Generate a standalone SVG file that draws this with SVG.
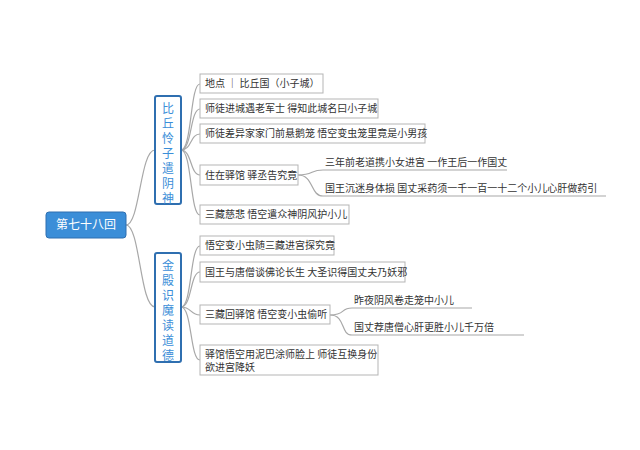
<svg xmlns="http://www.w3.org/2000/svg" width="640" height="450" viewBox="0 0 640 450">
<style>
text{font-family:"Noto Sans CJK SC","Noto Sans",sans-serif;font-size:10px;fill:#333}
.leaf{fill:#fff;stroke:#b5b5b5;stroke-width:1}
.br{fill:#fff;stroke:#2f6fb0;stroke-width:2}
.bt{fill:#3b8ed8;font-size:12px;text-anchor:middle}
.c{fill:none;stroke:#a8a8a8;stroke-width:1.2}
</style>
<rect width="640" height="450" fill="#fff"/>
<g id="connectors">
<path class="c" d="M126,225 C140,225 140,150 155,150"/>
<path class="c" d="M126,225 C140,225 140,307 155,307"/>
<path class="c" d="M181,150 C192,150 190,84 200,84"/>
<path class="c" d="M181,150 C192,150 190,109 200,109"/>
<path class="c" d="M181,150 C192,150 190,134 200,134"/>
<path class="c" d="M181,150 C192,150 190,175 200,175"/>
<path class="c" d="M181,150 C192,150 190,215 200,215"/>
<path class="c" d="M298,175 C314,175 310,170 323,170 H507"/>
<path class="c" d="M298,175 C314,175 310,196 323,196 H606"/>
<path class="c" d="M181,307 C192,307 190,246 200,246"/>
<path class="c" d="M181,307 C192,307 190,272 200,272"/>
<path class="c" d="M181,307 C192,307 190,315 200,315"/>
<path class="c" d="M181,307 C192,307 190,360 200,360"/>
<path class="c" d="M330,315 C346,315 340,308 352,308 H472"/>
<path class="c" d="M330,315 C346,315 340,335 352,335 H524"/>
</g>
<g id="root"><rect x="46" y="212" width="80" height="26" rx="3" fill="#3b8ed8" stroke="#2f6fb0"/><text x="86" y="229" text-anchor="middle" style="fill:#fff;font-size:12px">第七十八回</text></g>
<g id="b1"><rect class="br" x="155" y="96" width="26" height="108" rx="2"/>
<text class="bt" x="168" y="113">比</text><text class="bt" x="168" y="128">丘</text><text class="bt" x="168" y="143">怜</text><text class="bt" x="168" y="158">子</text><text class="bt" x="168" y="173">遣</text><text class="bt" x="168" y="188">阴</text><text class="bt" x="168" y="203">神</text></g>
<g id="b2"><rect class="br" x="155" y="253" width="26" height="109" rx="2"/>
<text class="bt" x="168" y="270">金</text><text class="bt" x="168" y="285">殿</text><text class="bt" x="168" y="300">识</text><text class="bt" x="168" y="315">魔</text><text class="bt" x="168" y="330">读</text><text class="bt" x="168" y="345">道</text><text class="bt" x="168" y="360">德</text></g>
<g id="l1"><rect class="leaf" x="200" y="74" width="123" height="19"/><text x="205" y="87">地点 ｜ 比丘国（小子城）</text></g>
<g id="l2"><rect class="leaf" x="200" y="99" width="178" height="19"/><text x="205" y="112">师徒进城遇老军士 得知此城名曰小子城</text></g>
<g id="l3"><rect class="leaf" x="200" y="124" width="225" height="19"/><text x="205" y="137">师徒差异家家门前悬鹅笼 悟空变虫笼里竟是小男孩</text></g>
<g id="l4"><rect class="leaf" x="200" y="165" width="98" height="20"/><text x="205" y="179">住在驿馆 驿丞告究竟</text></g>
<g id="l4a"><text x="325" y="166">三年前老道携小女进宫 一作王后一作国丈</text></g>
<g id="l4b"><text x="325" y="192">国王沉迷身体损 国丈采药须一千一百一十二个小儿心肝做药引</text></g>
<g id="l5"><rect class="leaf" x="200" y="205" width="149" height="19"/><text x="205" y="218">三藏慈悲 悟空遣众神阴风护小儿</text></g>
<g id="m1"><rect class="leaf" x="200" y="236" width="134" height="19"/><text x="205" y="249">悟空变小虫随三藏进宫探究竟</text></g>
<g id="m2"><rect class="leaf" x="200" y="262" width="205" height="20"/><text x="205" y="276">国王与唐僧谈佛论长生 大圣识得国丈夫乃妖邪</text></g>
<g id="m3"><rect class="leaf" x="200" y="305" width="130" height="19"/><text x="205" y="318">三藏回驿馆 悟空变小虫偷听</text></g>
<g id="m3a"><text x="354" y="304">昨夜阴风卷走笼中小儿</text></g>
<g id="m3b"><text x="354" y="331">国丈荐唐僧心肝更胜小儿千万倍</text></g>
<g id="m4"><rect class="leaf" x="200" y="345" width="178" height="30"/><text x="205" y="358">驿馆悟空用泥巴涂师脸上 师徒互换身份</text><text x="205" y="371">欲进宫降妖</text></g>
</svg>
